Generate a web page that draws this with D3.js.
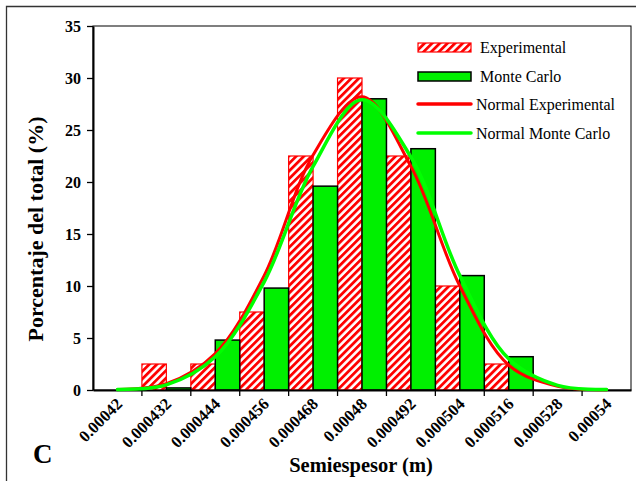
<!DOCTYPE html>
<html>
<head>
<meta charset="utf-8">
<script src="https://cdn.jsdelivr.net/npm/d3@7/dist/d3.min.js"></script>
<style>
  html, body { margin: 0; padding: 0; background: #fff; }
  svg { display: block; }
  text { font-family: "Liberation Serif", "Times New Roman", serif; fill: #000; }
</style>
</head>
<body>
<svg id="chart" width="636" height="481"></svg>
<script>
// Bin labels (half-thickness, m)
const categories = ["0.00042", "0.000432", "0.000444", "0.000456", "0.000468", "0.00048",
                    "0.000492", "0.000504", "0.000516", "0.000528", "0.00054"];
// Histogram frequencies (% of total)
const experimental = [0, 2.5, 2.5, 7.5, 22.5, 30, 22.5, 10, 2.5, 0, 0];
const monteCarlo   = [0, 0.2, 4.8, 9.8, 19.6, 28, 23.2, 11, 3.2, 0, 0];
// Fitted normal curves at each bin (% of total)
const normalExperimental = [0.05, 0.6, 3.5, 11.0, 22.6, 28.2, 21.5, 10.0, 2.4, 0.35, 0.03];
const normalMonteCarlo   = [0.05, 0.5, 3.2, 10.4, 21.5, 27.9, 22.4, 11.0, 3.0, 0.45, 0.05];
const yTicks = [0, 5, 10, 15, 20, 25, 30, 35];

const svg = d3.select("#chart");
const plot = { left: 93, right: 631, top: 26, bottom: 390 };

const x = d3.scaleBand().domain(categories).range([plot.left, plot.right]).padding(0);
const y = d3.scaleLinear().domain([0, 35]).range([plot.bottom, plot.top]);

const RED = "#ff0000";
const GREEN = "#00f000";

// Hatch pattern for the experimental bars
const defs = svg.append("defs");
const pat = defs.append("pattern")
  .attr("id", "hatch")
  .attr("patternUnits", "userSpaceOnUse")
  .attr("width", 5.4).attr("height", 5.4)
  .attr("patternTransform", "rotate(45)");
pat.append("rect").attr("width", 5.4).attr("height", 5.4).attr("fill", "#fff");
pat.append("rect").attr("width", 2.8).attr("height", 5.4).attr("fill", RED);

// Outer chart frame (left and top edges)
svg.append("path")
  .attr("d", "M6.5,481 V6.5 H636")
  .attr("fill", "none").attr("stroke", "#333").attr("stroke-width", 1.3);

// Plot area border
svg.append("rect")
  .attr("x", plot.left).attr("y", plot.top)
  .attr("width", plot.right - plot.left).attr("height", plot.bottom - plot.top)
  .attr("fill", "none").attr("stroke", "#000").attr("stroke-width", 1);

const half = x.bandwidth() / 2;

// Experimental bars (left half of each bin)
svg.append("g").selectAll("rect")
  .data(categories.map((c, i) => ({ c, v: experimental[i] })).filter(d => d.v > 0))
  .join("rect")
  .attr("x", d => x(d.c))
  .attr("y", d => y(d.v))
  .attr("width", half)
  .attr("height", d => y(0) - y(d.v))
  .attr("fill", "url(#hatch)")
  .attr("stroke", RED).attr("stroke-width", 1.2);

// Monte Carlo bars (right half of each bin)
svg.append("g").selectAll("rect")
  .data(categories.map((c, i) => ({ c, v: monteCarlo[i] })).filter(d => d.v > 0))
  .join("rect")
  .attr("x", d => x(d.c) + half)
  .attr("y", d => y(d.v))
  .attr("width", half)
  .attr("height", d => y(0) - y(d.v))
  .attr("fill", GREEN)
  .attr("stroke", "#000").attr("stroke-width", 1.5);

// Y axis
const yAxis = d3.axisLeft(y).tickValues(yTicks).tickSize(6).tickPadding(6).tickSizeOuter(0);
const gy = svg.append("g").attr("transform", `translate(${plot.left},0)`).call(yAxis);
gy.select(".domain").attr("stroke-width", 2);
gy.selectAll(".tick line").attr("stroke-width", 1.3);
gy.selectAll(".tick text")
  .attr("font-family", "Liberation Serif, Times New Roman, serif")
  .attr("font-size", 16).attr("font-weight", "bold");

// X axis: ticks at bin boundaries, labels at bin centres
const xAxis = d3.axisBottom(x).tickSize(0).tickSizeOuter(0).tickFormat("");
const gx = svg.append("g").attr("transform", `translate(0,${plot.bottom})`).call(xAxis);
gx.select(".domain").attr("stroke-width", 2);
gx.selectAll(".tick").remove();
gx.selectAll("line.bound")
  .data(categories.slice(1))
  .join("line")
  .attr("class", "bound")
  .attr("x1", d => x(d)).attr("x2", d => x(d))
  .attr("y1", 0).attr("y2", 6)
  .attr("stroke", "#000").attr("stroke-width", 1.3);

svg.append("g").selectAll("text")
  .data(categories)
  .join("text")
  .attr("transform", d => `translate(${x(d) + half + 6},${plot.bottom + 15}) rotate(-45)`)
  .attr("text-anchor", "end")
  .attr("font-size", 16.5).attr("font-weight", "bold")
  .text(d => d);

// Normal curves
const line = d3.line()
  .x((d, i) => x(categories[i]) + half)
  .y(d => y(d))
  .curve(d3.curveCatmullRom.alpha(0.5));

svg.append("path").datum(normalExperimental)
  .attr("d", line).attr("fill", "none")
  .attr("stroke", RED).attr("stroke-width", 3).attr("stroke-linecap", "round");
svg.append("path").datum(normalMonteCarlo)
  .attr("d", line).attr("fill", "none")
  .attr("stroke", "#00ff00").attr("stroke-width", 3.5).attr("stroke-linecap", "round");

// Legend
const legend = svg.append("g");
const lx = 418, lw = 53;
legend.append("rect").attr("x", lx).attr("y", 43).attr("width", lw).attr("height", 9)
  .attr("fill", "url(#hatch)").attr("stroke", RED).attr("stroke-width", 1.2);
legend.append("text").attr("x", 480).attr("y", 53).attr("font-size", 16).text("Experimental");

legend.append("rect").attr("x", lx).attr("y", 72).attr("width", lw).attr("height", 9)
  .attr("fill", GREEN).attr("stroke", "#000").attr("stroke-width", 1.5);
legend.append("text").attr("x", 480).attr("y", 82).attr("font-size", 16).text("Monte Carlo");

legend.append("line").attr("x1", lx).attr("x2", lx + lw).attr("y1", 104).attr("y2", 104)
  .attr("stroke", RED).attr("stroke-width", 3.5).attr("stroke-linecap", "round");
legend.append("text").attr("x", 476).attr("y", 110).attr("font-size", 16).text("Normal Experimental");

legend.append("line").attr("x1", lx).attr("x2", lx + lw).attr("y1", 133).attr("y2", 133)
  .attr("stroke", "#00ff00").attr("stroke-width", 3.5).attr("stroke-linecap", "round");
legend.append("text").attr("x", 476).attr("y", 139).attr("font-size", 16).text("Normal Monte Carlo");

// Axis titles
svg.append("text")
  .attr("transform", "translate(43,229) rotate(-90)")
  .attr("text-anchor", "middle")
  .attr("font-size", 22).attr("font-weight", "bold")
  .text("Porcentaje del total (%)");

svg.append("text")
  .attr("x", 361).attr("y", 472)
  .attr("text-anchor", "middle")
  .attr("font-size", 20.5).attr("font-weight", "bold")
  .text("Semiespesor (m)");

svg.append("text")
  .attr("x", 33).attr("y", 463)
  .attr("font-size", 27).attr("font-weight", "bold")
  .text("C");
</script>
</body>
</html>
